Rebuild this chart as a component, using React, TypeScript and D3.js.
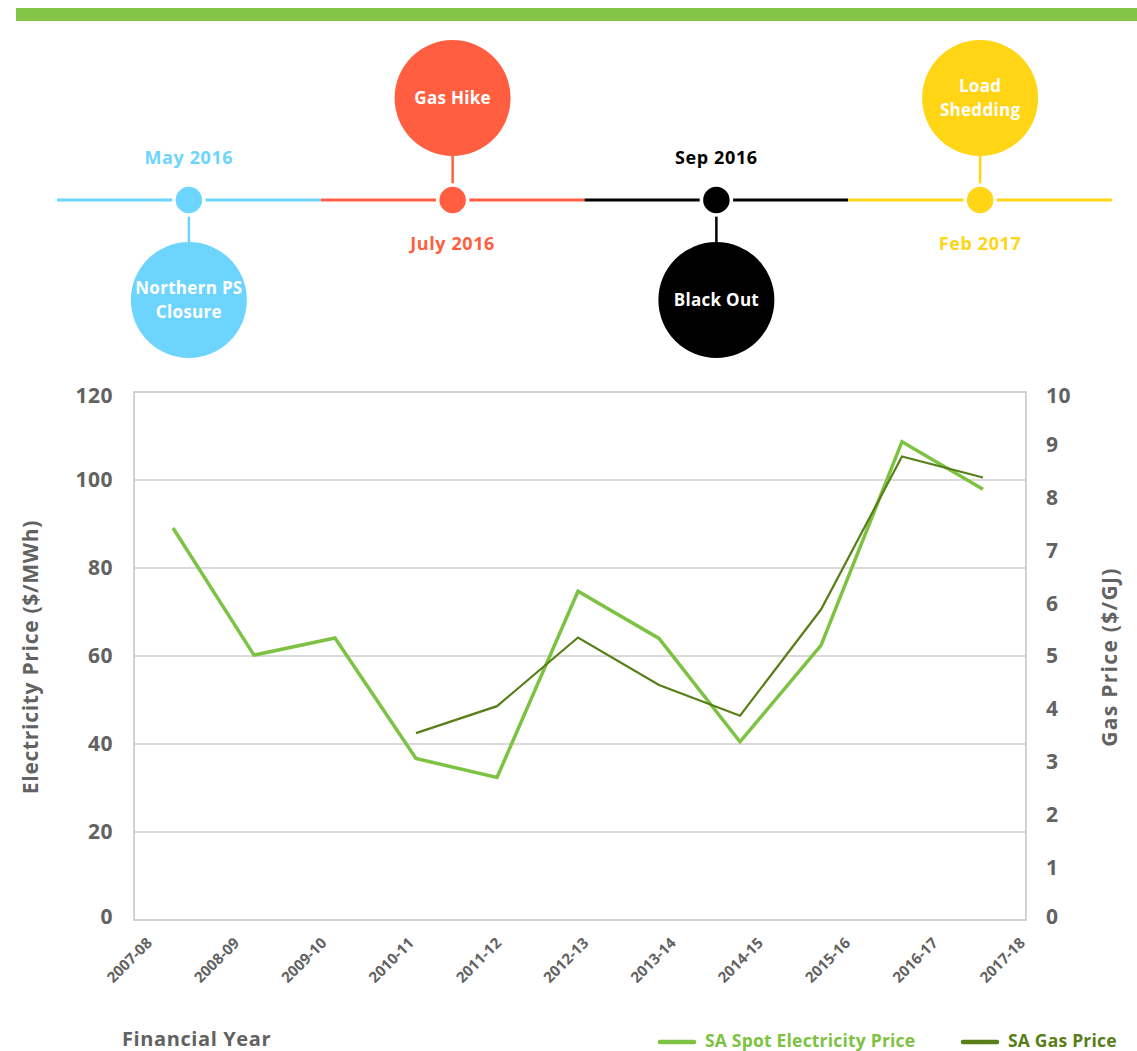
import React, { useEffect, useRef } from "react";
import * as d3 from "d3";

// financial years on the x axis
const years = [
  "2007-08", "2008-09", "2009-10", "2010-11", "2011-12", "2012-13",
  "2013-14", "2014-15", "2015-16", "2016-17", "2017-18",
];
// SA spot electricity price ($/MWh)
const electricity = [89.1, 60.2, 64.1, 36.7, 32.4, 74.7, 64.0, 40.5, 62.4, 108.7, 97.9];
// SA gas price ($/GJ), no data before 2010-11
const gas = [null, null, null, 3.54, 4.05, 5.35, 4.45, 3.87, 5.88, 8.78, 8.38];

const leftTicks = [0, 20, 40, 60, 80, 100, 120];
const rightTicks = [0, 1, 2, 3, 4, 5, 6, 7, 8, 9, 10];

// timeline events
const eventDates = ["May 2016", "July 2016", "Sep 2016", "Feb 2017"];
const eventNames = [["Northern PS", "Closure"], ["Gas Hike"], ["Black Out"], ["Load", "Shedding"]];
const eventColors = ["#6dd5fd", "#ff5f40", "#000000", "#ffd515"];
const eventAbove = [false, true, false, true];

const W = 1137;
const H = 1051;
const FONT = "'Open Sans', 'DejaVu Sans', sans-serif";
const GREY = "#626262";
const LIGHT_GREEN = "#7dc242";
const DARK_GREEN = "#587e18";

const App = () => {
  const svgRef = useRef(null);

  useEffect(() => {
    const svg = d3.select(svgRef.current);
    svg.selectAll("*").remove();

    // green bar at the top
    svg.append("rect").attr("x", 16).attr("y", 8).attr("width", W - 16).attr("height", 13).attr("fill", "#84c446");

    // ---- timeline ----
    const tl = d3.scaleBand().domain(eventDates).range([57, 1112]);
    const lineY = 200;
    const g = svg.append("g").attr("font-family", FONT).attr("font-weight", 700);

    eventDates.forEach((d, i) => {
      const x0 = tl(d);
      const cx = x0 + tl.bandwidth() / 2;
      const col = eventColors[i];
      const above = eventAbove[i];
      const bigY = above ? 98 : 300;
      const R = 58;

      g.append("line").attr("x1", x0).attr("x2", x0 + tl.bandwidth())
        .attr("y1", lineY).attr("y2", lineY).attr("stroke", col).attr("stroke-width", 3);

      // stem
      g.append("line").attr("x1", cx).attr("x2", cx)
        .attr("y1", lineY).attr("y2", above ? bigY + R : bigY - R)
        .attr("stroke", col).attr("stroke-width", 2.5);

      g.append("circle").attr("cx", cx).attr("cy", lineY).attr("r", 15)
        .attr("fill", col).attr("stroke", "#fff").attr("stroke-width", 3.5);

      g.append("circle").attr("cx", cx).attr("cy", bigY).attr("r", R).attr("fill", col);

      const names = eventNames[i];
      names.forEach((n, j) => {
        g.append("text")
          .attr("x", cx)
          .attr("y", bigY + (j - (names.length - 1) / 2) * 24 + 6)
          .attr("text-anchor", "middle")
          .attr("fill", "#fff")
          .attr("font-size", 17)
          .attr("letter-spacing", 0.3)
          .text(n);
      });

      g.append("text")
        .attr("x", cx)
        .attr("y", above ? 250 : 164)
        .attr("text-anchor", "middle")
        .attr("fill", col)
        .attr("font-size", 18)
        .attr("letter-spacing", 0.6)
        .text(d);
    });

    // ---- chart ----
    const left = 134, right = 1026, top = 392, bottom = 920;

    const x = d3.scalePoint().domain(years).range([left + 39, right - 43]);
    const xLabel = d3.scalePoint().domain(years).range([153, 1026]);
    const yL = d3.scaleLinear().domain([0, 120]).range([bottom, top]);
    const yR = d3.scaleLinear().domain([0, 10]).range([bottom, top]);

    const c = svg.append("g").attr("font-family", FONT).attr("font-weight", 700);

    // gridlines
    c.selectAll(".grid").data(leftTicks.slice(1, -1)).join("line")
      .attr("x1", left).attr("x2", right)
      .attr("y1", (d) => yL(d)).attr("y2", (d) => yL(d))
      .attr("stroke", "#b5b5b5").attr("stroke-width", 1.2);

    c.append("rect").attr("x", left).attr("y", top)
      .attr("width", right - left).attr("height", bottom - top)
      .attr("fill", "none").attr("stroke", "#c6c6c6").attr("stroke-width", 1.5);

    // left ticks
    c.selectAll(".lt").data(leftTicks).join("text")
      .attr("x", 113).attr("y", (d) => yL(d) + (d === 120 ? 4 : 0) + (d === 0 ? -3 : 0))
      .attr("dy", "0.35em")
      .attr("text-anchor", "end").attr("fill", GREY).attr("font-size", 21)
      .attr("letter-spacing", 0.5)
      .text((d) => d);

    // right ticks
    c.selectAll(".rt").data(rightTicks).join("text")
      .attr("x", 1046).attr("y", (d) => yR(d) + (d === 10 ? 4 : 0) + (d === 0 ? -3 : 0))
      .attr("dy", "0.35em")
      .attr("fill", GREY).attr("font-size", 21)
      .attr("letter-spacing", 0.5)
      .text((d) => d);

    // x labels
    c.selectAll(".xt").data(years).join("text")
      .attr("transform", (d) => `translate(${xLabel(d)},${944}) rotate(-45)`)
      .attr("text-anchor", "end").attr("fill", GREY).attr("font-size", 15)
      .text((d) => d);

    // axis titles
    c.append("text").attr("transform", `translate(38,657) rotate(-90)`)
      .attr("text-anchor", "middle").attr("fill", GREY).attr("font-size", 21)
      .attr("letter-spacing", 0.7)
      .text("Electricity Price ($/MWh)");
    c.append("text").attr("transform", `translate(1117,657) rotate(-90)`)
      .attr("text-anchor", "middle").attr("fill", GREY).attr("font-size", 21)
      .attr("letter-spacing", 1.3)
      .text("Gas Price ($/GJ)");
    c.append("text").attr("x", 122).attr("y", 1046)
      .attr("fill", GREY).attr("font-size", 20).attr("letter-spacing", 0.6).text("Financial Year");

    // lines
    const elecLine = d3.line().x((d, i) => x(years[i])).y((d) => yL(d));
    c.append("path").attr("d", elecLine(electricity))
      .attr("fill", "none").attr("stroke", LIGHT_GREEN).attr("stroke-width", 3.5);

    const gasLine = d3.line().defined((d) => d != null).x((d, i) => x(years[i])).y((d) => yR(d));
    c.append("path").attr("d", gasLine(gas))
      .attr("fill", "none").attr("stroke", DARK_GREEN).attr("stroke-width", 2.2);

    // legend
    const legend = [
      { label: "SA Spot Electricity Price", color: LIGHT_GREEN, x: 660 },
      { label: "SA Gas Price", color: DARK_GREEN, x: 963 },
    ];
    legend.forEach((l) => {
      c.append("line").attr("x1", l.x).attr("x2", l.x + 34)
        .attr("y1", 1042).attr("y2", 1042).attr("stroke", l.color).attr("stroke-width", 4.5)
        .attr("stroke-linecap", "round");
      c.append("text").attr("x", l.x + 45).attr("y", 1047)
        .attr("fill", l.color).attr("font-size", 17.5).attr("letter-spacing", 0.2).text(l.label);
    });
  }, []);

  return (
    <div style={{ position: "absolute", left: 0, top: 0 }}>
      <svg ref={svgRef} width={W} height={H} style={{ display: "block", background: "#fff" }}></svg>
    </div>
  );
};

export default App;
